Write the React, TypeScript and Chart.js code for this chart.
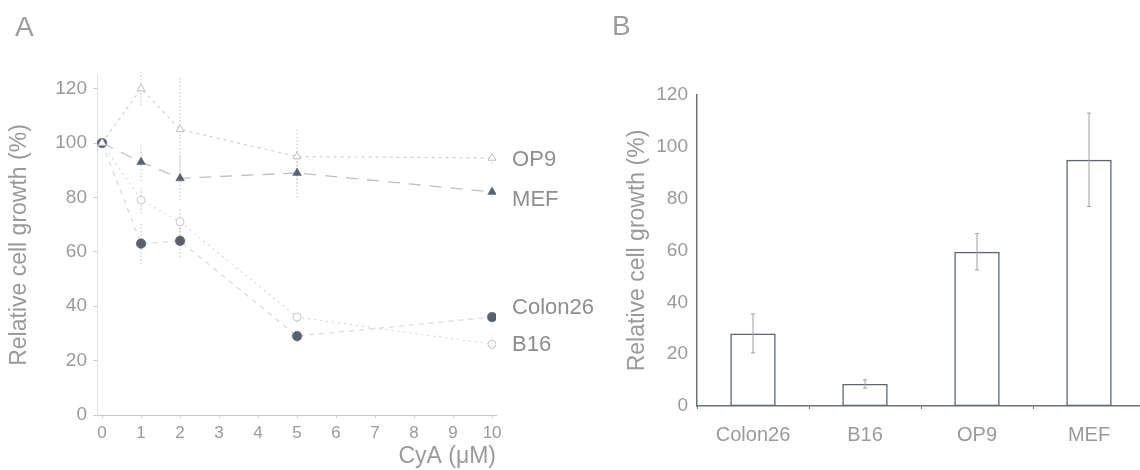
import React, { useEffect, useRef } from "react";
import { Chart, registerables } from "chart.js";

Chart.register(...registerables);

// ---------- Panel A data ----------
const doses = [0, 1, 2, 5, 10];
const xTickValuesA = [0, 1, 2, 3, 4, 5, 6, 7, 8, 9, 10];
const yTickValuesA = [0, 20, 40, 60, 80, 100, 120];
const seriesNames = ["OP9", "MEF", "Colon26", "B16"];
const op9 = [100, 120, 105, 95, 94.5];
const op9Err = [0, 6, 19, 10, 2];
const mef = [100, 93, 87, 89, 82];
const mefErr = [0, 7, 8, 9, 2];
const colon26 = [100, 63, 64, 29, 36];
const colon26Err = [0, 7.5, 6, 2, 1.5];
const b16 = [100, 79, 71, 36, 26];
const b16Err = [0, 5, 5, 2, 2];

// ---------- Panel B data ----------
const barCategories = ["Colon26", "B16", "OP9", "MEF"];
const barValues = [28, 8.5, 59.5, 95];
const barErrors = [7.5, 1.6, 7, 18];
const yTickValuesB = [0, 20, 40, 60, 80, 100, 120];

// ---------- styles ----------
const FONT = "'Liberation Sans', Arial, Helvetica, sans-serif";
const TEXT = "#9a9a9a";
const MARK = "#58616f";
const labelOffsetsA = [2, 8, -9, 1];

const panelAPlugin = {
  id: "panelA",
  beforeDatasetsDraw(chart: any) {
    const { ctx } = chart;
    const xs = chart.scales.x;
    const ys = chart.scales.y;
    ctx.save();
    ctx.strokeStyle = "#c2c2c2";
    ctx.lineWidth = 1;
    ctx.setLineDash([1.5, 2]);
    chart.data.datasets.forEach((ds: any) => {
      ds.data.forEach((p: any, i: number) => {
        const e = ds.errors[i];
        if (!e) return;
        const x = xs.getPixelForValue(p.x);
        const y1 = ys.getPixelForValue(p.y - e);
        const y2 = ys.getPixelForValue(p.y + e);
        ctx.beginPath();
        ctx.moveTo(x, y1);
        ctx.lineTo(x, y2);
        ctx.stroke();
      });
    });
    ctx.restore();
  },
  afterDatasetsDraw(chart: any) {
    const { ctx } = chart;
    const xs = chart.scales.x;
    const ys = chart.scales.y;
    ctx.save();
    ctx.fillStyle = "#8e8e8e";
    ctx.font = `22px ${FONT}`;
    ctx.textAlign = "left";
    ctx.textBaseline = "middle";
    chart.data.datasets.forEach((ds: any, i: number) => {
      const last = ds.data[ds.data.length - 1];
      const x = xs.getPixelForValue(last.x) + 20;
      const y = ys.getPixelForValue(last.y) + labelOffsetsA[i];
      ctx.fillText(ds.label, x, y);
    });
    ctx.fillStyle = "#9c9c9c";
    ctx.font = `28px ${FONT}`;
    ctx.textBaseline = "alphabetic";
    ctx.fillText("A", 15, 36);
    ctx.restore();
  },
};

const panelBPlugin = {
  id: "panelB",
  afterDatasetsDraw(chart: any) {
    const { ctx } = chart;
    const xs = chart.scales.x;
    const ys = chart.scales.y;
    ctx.save();
    ctx.strokeStyle = "#a0a0a0";
    ctx.lineWidth = 1;
    barValues.forEach((v, i) => {
      const x = xs.getPixelForValue(i);
      const y1 = ys.getPixelForValue(v - barErrors[i]);
      const y2 = ys.getPixelForValue(v + barErrors[i]);
      ctx.beginPath();
      ctx.moveTo(x, y1);
      ctx.lineTo(x, y2);
      ctx.moveTo(x - 2, y1);
      ctx.lineTo(x + 2, y1);
      ctx.moveTo(x - 2, y2);
      ctx.lineTo(x + 2, y2);
      ctx.stroke();
    });
    ctx.fillStyle = "#9c9c9c";
    ctx.font = `28px ${FONT}`;
    ctx.textAlign = "left";
    ctx.textBaseline = "alphabetic";
    ctx.fillText("B", 52, 35);
    ctx.restore();
  },
};

function pts(ys: number[]) {
  return doses.map((d, i) => ({ x: d, y: ys[i] }));
}

function PanelA() {
  const ref = useRef<HTMLCanvasElement>(null);
  useEffect(() => {
    const chart = new Chart(ref.current as HTMLCanvasElement, {
      type: "line",
      data: {
        datasets: [
          {
            label: seriesNames[0],
            data: pts(op9),
            errors: op9Err,
            borderColor: "#cdd0d5",
            borderWidth: 1.2,
            borderDash: [3, 4],
            pointStyle: "triangle",
            pointRadius: 4.5,
            pointBackgroundColor: "#ffffff",
            pointBorderColor: "#b9bcc2",
            pointBorderWidth: 1,
          } as any,
          {
            label: seriesNames[1],
            data: pts(mef),
            errors: mefErr,
            borderColor: "#bbbfc6",
            borderWidth: 1.3,
            borderDash: [12, 9],
            pointStyle: "triangle",
            pointRadius: 5,
            pointBackgroundColor: MARK,
            pointBorderColor: MARK,
            pointBorderWidth: 0.5,
          } as any,
          {
            label: seriesNames[2],
            data: pts(colon26),
            errors: colon26Err,
            borderColor: "#d6d9dd",
            borderWidth: 1.2,
            borderDash: [5, 5],
            pointStyle: "circle",
            pointRadius: 4.8,
            pointBackgroundColor: MARK,
            pointBorderColor: MARK,
            pointBorderWidth: 0.5,
          } as any,
          {
            label: seriesNames[3],
            data: pts(b16),
            errors: b16Err,
            borderColor: "#d6d9dd",
            borderWidth: 1.2,
            borderDash: [2, 4],
            pointStyle: "circle",
            pointRadius: 4,
            pointBackgroundColor: "#ffffff",
            pointBorderColor: "#c4c7cc",
            pointBorderWidth: 1,
          } as any,
        ],
      },
      options: {
        animation: false,
        responsive: false,
        maintainAspectRatio: false,
        layout: { padding: { top: 75, right: 124, left: 0, bottom: 0 } },
        plugins: { legend: { display: false }, tooltip: { enabled: false } },
        scales: {
          x: {
            type: "linear",
            min: -0.13,
            max: 10.1,
            afterBuildTicks: (s: any) => {
              s.ticks = xTickValuesA.map((v) => ({ value: v }));
            },
            afterFit: (s: any) => {
              s.height = 55;
            },
            grid: { display: true, drawOnChartArea: false, drawTicks: true, tickLength: 3, color: "#cfcfcf" },
            border: { display: true, color: "#c8c8c8", dash: [3, 2] },
            ticks: { color: TEXT, font: { family: FONT, size: 17 }, padding: 5, maxRotation: 0 },
            title: {
              display: true,
              text: "CyA (μM)",
              align: "end",
              color: TEXT,
              font: { family: FONT, size: 23 },
              padding: { top: 0, bottom: 0 },
            },
          },
          y: {
            type: "linear",
            min: 0,
            max: 125,
            afterBuildTicks: (s: any) => {
              s.ticks = yTickValuesA.map((v) => ({ value: v }));
            },
            afterFit: (s: any) => {
              s.width = 97;
            },
            grid: { display: true, drawOnChartArea: false, drawTicks: true, tickLength: 4, color: "#cfcfcf" },
            border: { display: true, color: "#e2e2e2", dash: [2, 3] },
            ticks: { color: TEXT, font: { family: FONT, size: 19 }, padding: 6 },
            title: {
              display: true,
              text: "Relative cell growth (%)",
              color: TEXT,
              font: { family: FONT, size: 23 },
              padding: { top: 6, bottom: 0 },
            },
          },
        },
      } as any,
      plugins: [panelAPlugin],
    });
    return () => chart.destroy();
  }, []);
  return (
    <canvas
      ref={ref}
      width={620}
      height={470}
      style={{ position: "absolute", left: 0, top: 0, width: 620, height: 470 }}
    />
  );
}

function PanelB() {
  const ref = useRef<HTMLCanvasElement>(null);
  useEffect(() => {
    const chart = new Chart(ref.current as HTMLCanvasElement, {
      type: "bar",
      data: {
        labels: barCategories,
        datasets: [
          {
            label: "Relative cell growth",
            data: barValues,
            backgroundColor: "#ffffff",
            borderColor: "#5d6572",
            borderWidth: 1.6,
            borderSkipped: false,
            categoryPercentage: 1,
            barPercentage: 0.406,
          } as any,
        ],
      },
      options: {
        animation: false,
        responsive: false,
        maintainAspectRatio: false,
        layout: { padding: { top: 95, right: 15, left: 0, bottom: 0 } },
        plugins: { legend: { display: false }, tooltip: { enabled: false } },
        scales: {
          x: {
            type: "category",
            offset: true,
            afterFit: (s: any) => {
              s.height = 64;
            },
            grid: { display: true, offset: true, drawOnChartArea: false, drawTicks: true, tickLength: 3, color: "#6a717c" },
            border: { display: true, color: "#6a717c", width: 1.5 },
            ticks: { color: TEXT, font: { family: FONT, size: 20 }, padding: 14, maxRotation: 0 },
          },
          y: {
            type: "linear",
            min: 0,
            max: 120,
            afterBuildTicks: (s: any) => {
              s.ticks = yTickValuesB.map((v) => ({ value: v }));
            },
            afterFit: (s: any) => {
              s.width = 137;
            },
            grid: { display: false, drawTicks: false },
            border: { display: true, color: "#6a717c", width: 1.5 },
            ticks: { color: TEXT, font: { family: FONT, size: 19 }, padding: 9 },
            title: {
              display: true,
              text: "Relative cell growth (%)",
              color: TEXT,
              font: { family: FONT, size: 23 },
              padding: { top: 64, bottom: 0 },
            },
          },
        },
      } as any,
      plugins: [panelBPlugin],
    });
    return () => chart.destroy();
  }, []);
  return (
    <canvas
      ref={ref}
      width={600}
      height={470}
      style={{ position: "absolute", left: 560, top: 0, width: 600, height: 470 }}
    />
  );
}

export default function App() {
  return (
    <div
      style={{
        position: "fixed",
        left: 0,
        top: 0,
        width: 1140,
        height: 470,
        overflow: "hidden",
        background: "#ffffff",
      }}
    >
      <PanelA />
      <PanelB />
    </div>
  );
}
